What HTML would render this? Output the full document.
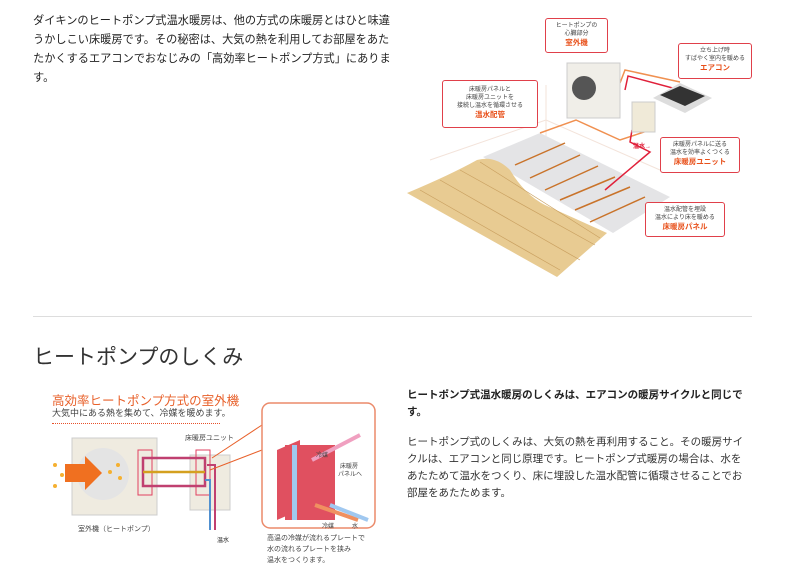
<!DOCTYPE html>
<html><head><meta charset="utf-8">
<style>
body{margin:0;width:789px;height:588px;background:#fff;position:relative;overflow:hidden;font-family:"Liberation Sans","Noto Sans CJK JP",sans-serif;color:#222}
.a{position:absolute;white-space:nowrap}
.t{font-size:11.2px;line-height:19px}
.r{font-size:10.5px;line-height:17px}
.cb{position:absolute;border:1.3px solid #e0404a;border-radius:3px;background:#fff;font-size:6px;text-align:center;line-height:8px;color:#444;padding-top:3px;box-sizing:border-box}
.cb b{color:#e8501a;font-size:7.5px;line-height:10px}
.s{font-size:7px;color:#444}
</style></head><body>
<div class="a t" style="left:33px;top:12px">ダイキンのヒートポンプ式温水暖房は、他の方式の床暖房とはひと味違<br>うかしこい床暖房です。その秘密は、大気の熱を利用してお部屋をあた<br>たかくするエアコンでおなじみの「高効率ヒートポンプ方式」にありま<br>す。</div>

<svg class="a" style="left:0;top:0" width="789" height="300">
<line x1="546" y1="85" x2="546" y2="190" stroke="#f3e3da" />
<line x1="430" y1="160" x2="546" y2="120" stroke="#f3e3da"/>
<line x1="546" y1="120" x2="660" y2="170" stroke="#f3e3da"/>
<polygon points="483,157 540,133 670,197 613,233" fill="#e4e4e6"/>
<g stroke="#c9732a" stroke-width="1.5">
<line x1="515" y1="165" x2="565" y2="143"/><line x1="530" y1="178" x2="580" y2="155"/>
<line x1="545" y1="190" x2="598" y2="166"/><line x1="560" y1="200" x2="615" y2="177"/>
<line x1="575" y1="210" x2="630" y2="187"/><line x1="590" y1="222" x2="645" y2="197"/>
</g>
<path d="M407,193 Q450,175 477,160 Q495,155 510,170 Q525,195 545,205 L607,233 L557,277 Z" fill="#e8cb92"/>
<g stroke="#c9a060" stroke-width="0.7">
<line x1="420" y1="190" x2="560" y2="270"/><line x1="440" y1="180" x2="580" y2="260"/>
<line x1="460" y1="170" x2="595" y2="245"/><line x1="480" y1="162" x2="600" y2="238"/>
</g>
<polyline points="540,133 576,120 620,140 650,130" stroke="#f09050" stroke-width="1.5" fill="none"/>
<polyline points="620,83 625,70 680,82" stroke="#f09050" stroke-width="1.5" fill="none"/>
<polyline points="625,90 628,76 680,90" stroke="#e0203a" stroke-width="1.5" fill="none"/>
<polyline points="632,130 630,142 650,152 605,190" stroke="#e0203a" stroke-width="1.5" fill="none"/>
<rect x="567" y="63" width="53" height="55" fill="#f0eee8" stroke="#ccc"/>
<circle cx="584" cy="88" r="12" fill="#555"/>
<polygon points="653,98 680,83 712,98 685,113" fill="#ddd"/>
<polygon points="660,95 680,86 705,96 685,106" fill="#333"/>
<rect x="632" y="102" width="23" height="30" fill="#f0ead8" stroke="#ccc"/>
<text x="633" y="148" font-size="6" fill="#e0203a" font-weight="bold">温水→</text>
</svg>
<div class="cb" style="left:545px;top:18px;width:63px;height:35px">ヒートポンプの<br>心臓部分<br><b>室外機</b></div>
<div class="cb" style="left:678px;top:43px;width:74px;height:36px">立ち上げ時<br>すばやく室内を暖める<br><b>エアコン</b></div>
<div class="cb" style="left:442px;top:80px;width:96px;height:48px;padding-top:5px">床暖房パネルと<br>床暖房ユニットを<br>接続し温水を循環させる<br><b>温水配管</b></div>
<div class="cb" style="left:660px;top:137px;width:80px;height:36px">床暖房パネルに送る<br>温水を効率よくつくる<br><b>床暖房ユニット</b></div>
<div class="cb" style="left:645px;top:202px;width:80px;height:35px">温水配管を埋設<br>温水により床を暖める<br><b>床暖房パネル</b></div>

<div class="a" style="left:33px;top:316px;width:719px;height:1px;background:#ddd"></div>
<div class="a" style="left:33px;top:341px;font-size:21px;color:#333">ヒートポンプのしくみ</div>

<div class="a" style="left:52px;top:390px;font-size:12.5px;color:#e8602a">高効率ヒートポンプ方式の室外機</div>
<div class="a" style="left:52px;top:406px;font-size:9px;color:#444">大気中にある熱を集めて、冷媒を暖めます。</div>
<div class="a" style="left:52px;top:423px;width:168px;border-top:1.5px dotted #e8502a"></div>
<svg class="a" style="left:0;top:400px" width="400" height="188">
<g transform="translate(0,20)">
<rect x="72" y="18" width="85" height="77" fill="#efebe0" stroke="#ccc"/>
<circle cx="103" cy="54" r="26" fill="#e4e4e4"/>
<polygon points="65,44 85,44 85,36 102,53 85,70 85,62 65,62" fill="#f07020"/>
<g fill="#f5b030"><circle cx="55" cy="45" r="2"/><circle cx="62" cy="55" r="2"/><circle cx="55" cy="66" r="2"/><circle cx="110" cy="52" r="2"/><circle cx="118" cy="45" r="2"/><circle cx="120" cy="58" r="2"/></g>
<rect x="190" y="35" width="40" height="55" fill="#efebe0" stroke="#ccc"/>
<rect x="138" y="30" width="14" height="45" fill="none" stroke="#e04060"/>
<rect x="196" y="30" width="14" height="45" fill="none" stroke="#e04060"/>
<rect x="143" y="38" width="62" height="28" fill="none" stroke="#c04070" stroke-width="2.5"/>
<line x1="143" y1="52" x2="205" y2="52" stroke="#d4a020" stroke-width="2.5"/>
<polyline points="207,45 215,45 215,110" fill="none" stroke="#c04070" stroke-width="2"/>
<polyline points="205,60 210,60 210,110" fill="none" stroke="#5090d0" stroke-width="2"/>
<line x1="212" y1="38" x2="262" y2="5" stroke="#e8602a"/>
<line x1="210" y1="50" x2="262" y2="30" stroke="#e8602a"/>
<rect x="262" y="-17" width="113" height="125" rx="8" fill="#fff" stroke="#eb8a6a" stroke-width="1.5"/>
<polygon points="277,30 300,20 300,90 277,100" fill="#e05060"/>
<rect x="285" y="25" width="50" height="75" fill="#e05060"/>
<rect x="292" y="25" width="5" height="75" fill="#a0c8f0"/>
<line x1="312" y1="40" x2="360" y2="15" stroke="#f0a0c0" stroke-width="4"/>
<line x1="315" y1="85" x2="358" y2="100" stroke="#f09060" stroke-width="4"/>
<line x1="330" y1="85" x2="368" y2="100" stroke="#a0c8f0" stroke-width="4"/>
<text x="316" y="37" font-size="6" fill="#444">冷媒</text>
<text x="340" y="48" font-size="6" fill="#444">床暖房</text>
<text x="338" y="56" font-size="6" fill="#444">パネルへ</text>
<text x="322" y="108" font-size="6" fill="#444">冷媒</text>
<text x="352" y="108" font-size="6" fill="#444">水</text>
</g>
</svg>
<div class="a s" style="left:185px;top:433px">床暖房ユニット</div>
<div class="a s" style="left:78px;top:524px">室外機（ヒートポンプ）</div>
<div class="a" style="left:217px;top:535px;font-size:6px">温水</div>
<div class="a" style="left:267px;top:533px;font-size:7px;line-height:11px;color:#444">高温の冷媒が流れるプレートで<br>水の流れるプレートを挟み<br>温水をつくります。</div>

<div class="a r" style="left:407px;top:387px;font-weight:bold">ヒートポンプ式温水暖房のしくみは、エアコンの暖房サイクルと同じで<br>す。</div>
<div class="a r" style="left:407px;top:434px;color:#333">ヒートポンプ式のしくみは、大気の熱を再利用すること。その暖房サイ<br>クルは、エアコンと同じ原理です。ヒートポンプ式暖房の場合は、水を<br>あたためて温水をつくり、床に埋設した温水配管に循環させることでお<br>部屋をあたためます。</div>
</body></html>
